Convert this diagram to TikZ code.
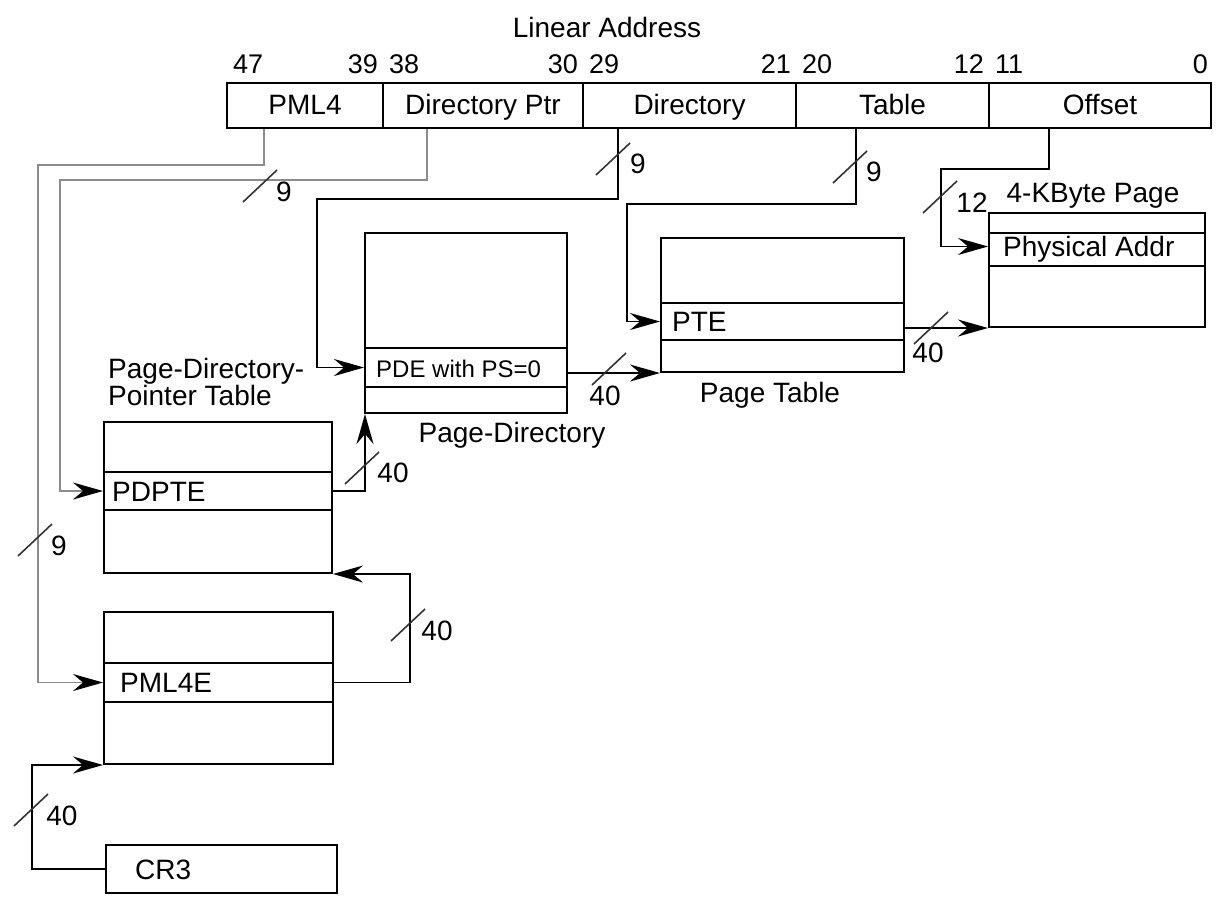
\documentclass[tikz,border=0pt]{standalone}
\usepackage{fontspec}
\setmainfont{Liberation Sans}
\usetikzlibrary{arrows.meta,positioning}

\newcommand\pdefont{\fontsize{24}{28}\selectfont}
\newcommand\bitfont{\fontsize{27}{30}\selectfont}

\tikzset{
  cell/.style={draw, line width=2pt, inner sep=0pt, anchor=north west},
  field/.style={cell, text height=20pt, text depth=3pt},
  entry/.style={inner sep=0pt, anchor=west, text height=20pt, text depth=0pt},
  txt/.style={inner sep=0pt},
  bits/.style={inner sep=0pt, font=\bitfont},
  wire/.style={line width=1.8pt, -{Stealth[length=30pt,width=17pt,inset=10pt,color=black]}},
  greywire/.style={wire, draw=black!45},
  busmark/.style={line width=1.6pt, draw=black!80},
}

\begin{document}
\begin{tikzpicture}[x=1pt, y=-1pt, font=\fontsize{28}{32}\selectfont]%
  \useasboundingbox (0,0) rectangle (1230,906);
  % Linear address register
  \node[txt, anchor=base] (la) at (607,37) {Linear Address};
  \foreach \nm/\xa/\xb/\txt in {%
      pml/226/382/PML4,%
      dptr/382/582/Directory Ptr,%
      dir/582/795/Directory,%
      tab/795/988/Table,%
      off/988/1210/Offset%
    }
    \node[field, minimum width=\xb-\xa, minimum height=45] (\nm) at (\xa,82) {\txt};
  \foreach \x/\n in {226/47, 382/38, 582/29, 795/20, 988/11}
    \node[bits, anchor=base west] (b\n) at (\x+7,73) {\n};
  \foreach \x/\n in {382/39, 582/30, 795/21, 988/12, 1212/0}
    \node[bits, anchor=base east] (b\n) at (\x-4,73) {\n};
  % Tables: top cell, entry, bottom cell
  \foreach \nm/\x/\w/\ya/\yb/\yc/\yd/\txt/\dx/\dy in {%
      pmlt/103/229/611/662/701/763/PML4E/17/0,%
      pdpt/103/228/421/471/509/572/PDPTE/9/0,%
      pd/364/202/232/347/386/412/{\pdefont PDE with PS=0}/12/0,%
      pt/660/243/237/302/339/371/PTE/12/0,%
      pg/988/216/212/232/265/326/Physical Addr/15/3%
    } {%
      \node[cell, minimum width=\w, minimum height=\yb-\ya] (\nm-top) at (\x,\ya) {};
      \node[cell, minimum width=\w, minimum height=\yc-\yb] (\nm-ent) at (\x,\yb) {};
      \node[cell, minimum width=\w, minimum height=\yd-\yc] (\nm-bot) at (\x,\yc) {};
      \node[entry] (\nm-txt) at ([xshift=\dx, yshift=\dy]\nm-ent.west) {\txt};
    }
  \node[cell, minimum width=231, minimum height=48] (cr3) at (105,844) {};
  \node[entry] (cr3-txt) at ([xshift=30]cr3.west) {CR3};
  % Table names
  \node[txt, anchor=base west, align=left, font=\fontsize{28}{27}\selectfont]
    (pdpt-lbl) at (108,405) {Page-Directory-\\ Pointer Table};
  \node[txt, anchor=base] (pd-lbl) at (512,442) {Page-Directory};
  \node[txt, anchor=base] (pt-lbl) at (770,402) {Page Table};
  \node[txt, anchor=base] (pg-lbl) at (1093,202) {4-KByte Page};
  % Index fields
  \draw[greywire] ([xshift=-41]pml.south) -- ++(0,36) -| ([xshift=-65]pmlt-ent.west) -- (pmlt-ent.west);
  \draw[greywire] ([xshift=-56]dptr.south) -- ++(0,51) -| ([xshift=-43]pdpt-ent.west) -- (pdpt-ent.west);
  \draw[wire] ([xshift=-71.5]dir.south) -- ++(0,70) -| ([xshift=-47]pd-ent.west) -- (pd-ent.west);
  \draw[wire] ([xshift=-36.5]tab.south) -- ++(0,75) -| ([xshift=-33]pt-ent.west) -- (pt-ent.west);
  \draw[wire] ([xshift=-51]off.south) -- ++(0,40) -| ([xshift=-47, yshift=3]pg-ent.west) -- ([yshift=3]pg-ent.west);
  % Base addresses
  \draw[wire] (cr3.west) -- ++(-73,0) |- (pmlt-bot.south west);
  \draw[wire] (pmlt-ent.east) -- ++(76,0) |- (pdpt-bot.south east);
  \draw[wire] (pdpt-ent.east) -| ([xshift=1]pd-bot.south west);
  \draw[wire] (pd-ent.east |- pt-bot.south west) -- (pt-bot.south west);
  \draw[wire] (pt-ent.east |- pg-bot.south west) -- (pg-bot.south west);
  % Bus widths
  \foreach \x/\y/\n/\lx/\ly [count=\i] in {%
      260/186/9/24/6, 613/159/9/25/5, 850/167/9/24/5, 940/197/12/32/6,%
      35/540/9/24/6, 31/810/40/31/6, 408/625/40/29/6, 362/468/40/31/5,%
      609/369/40/-4/27, 931/328/40/-3/25%
    } {%
      \draw[busmark] (\x-17,\y+16) -- (\x+17,\y-16);
      \node[txt] (bus\i) at (\x+\lx,\y+\ly) {\n};
    }
\end{tikzpicture}
\end{document}
